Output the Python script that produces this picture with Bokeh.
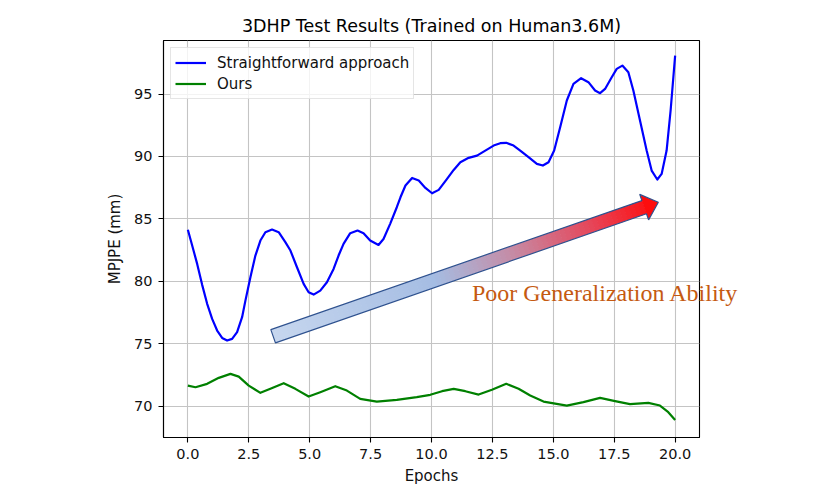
import numpy as np
from bokeh.plotting import figure
from bokeh.models import Range1d, FixedTicker, PrintfTickFormatter
from bokeh.core.properties import value
from bokeh.embed import file_html
from bokeh.resources import INLINE

# ---------------- data ----------------
TITLE = "3DHP Test Results (Trained on Human3.6M)"
X_LABEL = "Epochs"
Y_LABEL = "MPJPE (mm)"
X_TICKS = [0, 2.5, 5, 7.5, 10, 12.5, 15, 17.5, 20]
Y_TICKS = [70, 75, 80, 85, 90, 95]

SERIES1_NAME = "Straightforward approach"
straight_epochs = [0.000, 0.177, 0.382, 0.587, 0.792, 0.997, 1.202, 1.407, 1.611, 1.816,
                   2.021, 2.226, 2.362, 2.567, 2.772, 2.977, 3.182, 3.455, 3.728, 4.001,
                   4.210, 4.479, 4.752, 4.957, 5.162, 5.435, 5.708, 5.981, 6.186, 6.390,
                   6.664, 6.964, 7.210, 7.483, 7.825, 8.030, 8.303, 8.576, 8.726, 8.931,
                   9.204, 9.477, 9.750, 10.023, 10.296, 10.638, 10.911, 11.184, 11.525,
                   11.867, 12.208, 12.550, 12.823, 13.068, 13.369, 13.642, 13.983,
                   14.325, 14.571, 14.803, 15.035, 15.281, 15.554, 15.827, 16.141,
                   16.441, 16.714, 16.919, 17.124, 17.397, 17.602, 17.834, 18.080,
                   18.285, 18.558, 18.831, 19.036, 19.268, 19.446, 19.650, 19.814, 20.000]
straight_mpjpe = [84.12, 82.86, 81.39, 79.71, 78.19, 76.98, 76.05, 75.46, 75.25, 75.38,
                  75.92, 77.12, 78.45, 80.32, 82.06, 83.26, 83.93, 84.14, 83.93, 83.13,
                  82.46, 81.12, 79.79, 79.12, 78.93, 79.25, 79.92, 80.99, 82.06, 82.99,
                  83.85, 84.06, 83.85, 83.26, 82.91, 83.39, 84.60, 85.93, 86.73, 87.67,
                  88.28, 88.07, 87.48, 87.05, 87.32, 88.20, 88.92, 89.54, 89.89,
                  90.07, 90.47, 90.87, 91.06, 91.09, 90.87, 90.47, 89.94,
                  89.40, 89.27, 89.54, 90.47, 92.34, 94.48, 95.81, 96.27,
                  95.95, 95.28, 95.07, 95.41, 96.35, 97.02, 97.28, 96.75,
                  95.28, 92.88, 90.47, 88.87, 88.15, 88.60, 90.47, 93.68, 98.08]

SERIES2_NAME = "Ours"
ours_epochs = [0.000, 0.314, 0.792, 1.270, 1.748, 2.089, 2.499, 2.977, 3.387, 3.933,
               4.411, 4.957, 5.435, 6.050, 6.527, 7.074, 7.756, 8.576, 9.395, 9.950,
               10.433, 10.911, 11.389, 11.935, 12.481, 13.068, 13.574, 14.052, 14.598,
               15.554, 16.236, 16.919, 17.534, 18.148, 18.900, 19.377, 19.719, 20.000]
ours_mpjpe = [71.64, 71.51, 71.78, 72.26, 72.58, 72.36, 71.64, 71.06, 71.38, 71.83,
              71.38, 70.76, 71.11, 71.59, 71.24, 70.57, 70.36, 70.49, 70.71, 70.90,
              71.19, 71.38, 71.19, 70.92, 71.30, 71.78, 71.38, 70.84, 70.36,
              70.04, 70.31, 70.65, 70.39, 70.15, 70.25, 70.04, 69.51, 68.89]

ANNOT_TEXT = "Poor Generalization Ability"
ANNOT_POS = (11.66, 79.05)
ARROW_TAIL = (3.50, 75.59)
ARROW_TIP = (19.31, 86.33)
ARROW_STOPS = [0.0, 0.42, 0.62, 0.82, 1.0]
ARROW_COLORS = ["#c7d7ef", "#a5bde3", "#c58ca6", "#e6485c", "#ff0a0a"]

# ---------------- layout ----------------
FRAME_W, FRAME_H = 536, 397
X_RANGE = (-1.0, 21.0)
Y_RANGE = (67.48, 99.29)

p = figure(frame_width=FRAME_W, frame_height=FRAME_H,
           min_border_left=163, min_border_right=123,
           min_border_top=40, min_border_bottom=49,
           x_range=Range1d(*X_RANGE), y_range=Range1d(*Y_RANGE),
           output_backend="svg", toolbar_location=None,
           title=TITLE)

p.background_fill_color = "white"
p.border_fill_color = "white"
p.outline_line_color = "black"
p.outline_line_width = 1.1
p.outline_line_alpha = 1.0

p.title.text_font = "DejaVu Sans"
p.title.text_font_size = "17.5px"
p.title.text_font_style = "normal"
p.title.text_color = "black"
p.title.align = "center"

for ax in (p.xaxis[0], p.yaxis[0]):
    ax.axis_line_color = "black"
    ax.axis_line_width = 1.1
    ax.major_tick_in = 0
    ax.major_tick_out = 5
    ax.major_tick_line_color = "black"
    ax.major_tick_line_width = 1.1
    ax.minor_tick_line_color = None
    ax.major_label_text_font = "DejaVu Sans"
    ax.major_label_text_font_size = "14.5px"
    ax.major_label_text_color = "#111111"
    ax.axis_label_text_font = "DejaVu Sans"
    ax.axis_label_text_font_size = "15px"
    ax.axis_label_text_font_style = "normal"
    ax.axis_label_text_color = "#111111"

p.xaxis.ticker = FixedTicker(ticks=X_TICKS)
p.xaxis.formatter = PrintfTickFormatter(format="%.1f")
p.yaxis.ticker = FixedTicker(ticks=Y_TICKS)
p.xaxis.axis_label = X_LABEL
p.yaxis.axis_label = Y_LABEL
p.xaxis.major_label_standoff = 6
p.yaxis.major_label_standoff = 6
p.xaxis.axis_label_standoff = 5
p.yaxis.axis_label_standoff = 7

p.grid.grid_line_color = "#c4c4c4"
p.grid.grid_line_width = 1.1

# ---------------- lines ----------------
p.line(straight_epochs, straight_mpjpe, line_color="#0000ff", line_width=2.2,
       line_join="round", legend_label=SERIES1_NAME)
p.line(ours_epochs, ours_mpjpe, line_color="#008000", line_width=2.2,
       line_join="round", legend_label=SERIES2_NAME)

# ---------------- gradient arrow ----------------
sx = FRAME_W / (X_RANGE[1] - X_RANGE[0])
sy = FRAME_H / (Y_RANGE[1] - Y_RANGE[0])
tail = np.array([ARROW_TAIL[0] * sx, ARROW_TAIL[1] * sy])
tip = np.array([ARROW_TIP[0] * sx, ARROW_TIP[1] * sy])
L = np.linalg.norm(tip - tail)
u = (tip - tail) / L
n = np.array([-u[1], u[0]])
half_w, head_half_w, head_len = 7.0, 13.5, 15.0
shaft_len = L - head_len

def to_data(pts):
    pts = np.asarray(pts)
    return list(pts[:, 0] / sx), list(pts[:, 1] / sy)

def hex2rgb(h):
    h = h.lstrip("#")
    return np.array([int(h[i:i + 2], 16) for i in (0, 2, 4)], dtype=float)

stop_rgb = np.array([hex2rgb(c) for c in ARROW_COLORS])

def grad(f):
    r = np.interp(f, ARROW_STOPS, stop_rgb[:, 0])
    g = np.interp(f, ARROW_STOPS, stop_rgb[:, 1])
    b = np.interp(f, ARROW_STOPS, stop_rgb[:, 2])
    return "#%02x%02x%02x" % (int(r), int(g), int(b))

N = 80
xs_list, ys_list, cols = [], [], []
for i in range(N):
    t0 = shaft_len * i / N
    t1 = min(shaft_len * (i + 1) / N + 0.6, shaft_len + 0.5)
    a0 = tail + u * t0
    a1 = tail + u * t1
    poly = [a0 + n * half_w, a1 + n * half_w, a1 - n * half_w, a0 - n * half_w]
    xs, ys = to_data(poly)
    xs_list.append(xs)
    ys_list.append(ys)
    cols.append(grad((t0 + t1) / 2 / L))
p.patches(xs_list, ys_list, fill_color=cols, line_color=None)

base = tail + u * shaft_len
head = [base + n * head_half_w, tip, base - n * head_half_w]
hx, hy = to_data(head)
p.patch(hx, hy, fill_color=grad(0.99), line_color=None)

outline = [tail + n * half_w, base + n * half_w, base + n * head_half_w, tip,
           base - n * head_half_w, base - n * half_w, tail - n * half_w]
ox, oy = to_data(outline)
p.patch(ox, oy, fill_alpha=0, line_color="#2f528f", line_width=1.2)

# ---------------- annotation text (overlay level so it may leave the frame) ----------------
p.text(x=[ANNOT_POS[0]], y=[ANNOT_POS[1]], text=[ANNOT_TEXT],
       text_font=value("Liberation Serif"), text_font_size="24px",
       text_color="#c55a11", text_baseline="alphabetic", text_align="left",
       level="overlay")

# ---------------- legend ----------------
lg = p.legend[0]
lg.location = "top_left"
lg.margin = 7
lg.padding = 4
lg.spacing = 0
lg.label_height = 21
lg.glyph_height = 21
lg.glyph_width = 31
lg.label_standoff = 11
lg.label_text_font = "DejaVu Sans"
lg.label_text_font_size = "15px"
lg.label_text_color = "#111111"
lg.border_line_color = "#cccccc"
lg.border_line_width = 1
lg.background_fill_alpha = 0.8

open("out.html", "w").write(file_html(p, INLINE))
